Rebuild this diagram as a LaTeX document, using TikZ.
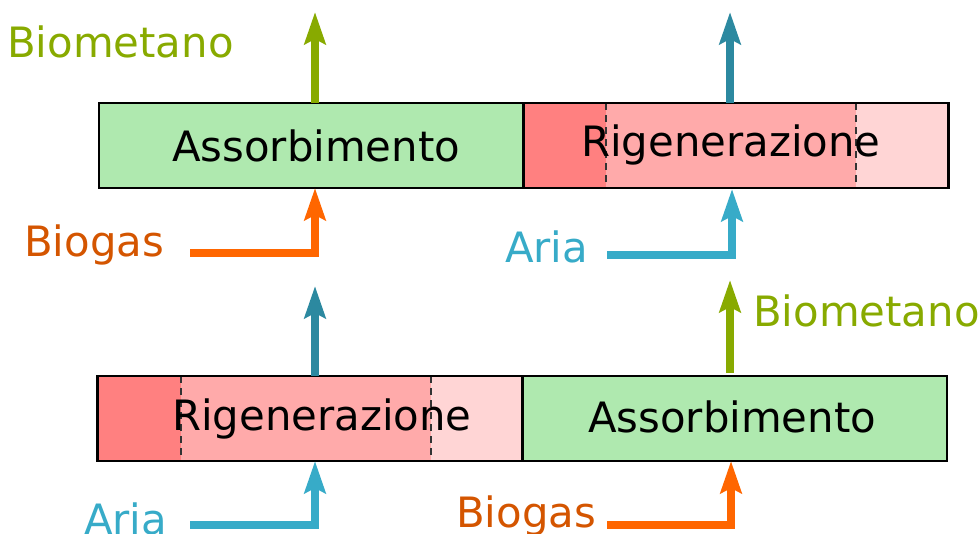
\documentclass[tikz,border=0pt]{standalone}
\usepackage{fontspec}
\setmainfont{DejaVu Sans}
\usetikzlibrary{arrows.meta}
\definecolor{absgreen}{HTML}{AFE9AF}
\definecolor{regdark}{HTML}{FF8080}
\definecolor{regmid}{HTML}{FFAAAA}
\definecolor{reglight}{HTML}{FFD5D5}
\definecolor{metgreen}{HTML}{88AA00}
\definecolor{teal}{HTML}{2C89A0}
\definecolor{airblue}{HTML}{37ABC8}
\definecolor{gasorange}{HTML}{FF6600}
\definecolor{gastext}{HTML}{D45500}
\tikzset{
  box/.style={draw=black, line width=2.8pt, minimum width=425pt, minimum height=85pt, inner sep=0pt},
  word/.style={font=\fontsize{41.8pt}{50pt}\selectfont, inner sep=0pt, anchor=base west},
  flow/.style={line width=7.7pt, line join=miter, -{Stealth[length=32pt,width=21pt,inset=5pt]}},
  sep/.style={draw=black!80, line width=1.5pt, dash pattern=on 7pt off 5pt},
}
\begin{document}
\begin{tikzpicture}[x=1pt,y=-1pt]
\useasboundingbox (0,0) rectangle (979,533);
% ---- top row ----
\fill[absgreen] (99,103) rectangle (524,188);
\fill[regdark] (524,103) rectangle (606,188);
\fill[regmid] (606,103) rectangle (856,188);
\fill[reglight] (856,103) rectangle (948,188);
\draw[sep] (606,103) -- (606,188);
\draw[sep] (856,103) -- (856,188);
\node[box] (abs1) at (311.5,145.5) {};
\node[box] (reg1) at (736,145.5) {};
\node[word] (tabs1) at (172,161) {Assorbimento};
\node[word] (treg1) at (581,156) {Rigenerazione};
% ---- bottom row ----
\fill[regdark] (98,376) rectangle (181,461);
\fill[regmid] (181,376) rectangle (431,461);
\fill[reglight] (431,376) rectangle (522,461);
\fill[absgreen] (522,376) rectangle (947,461);
\draw[sep] (181,376) -- (181,461);
\draw[sep] (431,376) -- (431,461);
\node[box] (reg2) at (310,418.5) {};
\node[box] (abs2) at (734.5,418.5) {};
\node[word] (treg2) at (172,430) {Rigenerazione};
\node[word] (tabs2) at (588,432) {Assorbimento};
% ---- labels ----
\node[word, text=metgreen] (lmet1) at (7,57) {Biometano};
\node[word, text=gastext] (lgas1) at (24,256) {Biogas};
\node[word, text=airblue] (lair1) at (505,262) {Aria};
\node[word, text=metgreen] (lmet2) at (753,326) {Biometano};
\node[word, text=gastext] (lgas2) at (456,527) {Biogas};
\node[word, text=airblue] (lair2) at (84,534) {Aria};
% ---- connector coordinates ----
\coordinate (o1s) at (315,103); \coordinate (o1e) at (315,12);
\coordinate (o2s) at (730,103); \coordinate (o2e) at (730,12);
\coordinate (o3s) at (315,376); \coordinate (o3e) at (315,286);
\coordinate (o4s) at (730,373); \coordinate (o4e) at (730,280);
\coordinate (g1) at (190,253); \coordinate (g1e) at (315,188);
\coordinate (a1) at (607,255); \coordinate (a1e) at (732,189);
\coordinate (a2) at (190,525); \coordinate (a2e) at (315,461);
\coordinate (g2) at (607,525); \coordinate (g2e) at (731,461);
% ---- flows ----
\draw[flow, metgreen] (o1s) -- (o1e);
\draw[flow, teal] (o2s) -- (o2e);
\draw[flow, teal] (o3s) -- (o3e);
\draw[flow, metgreen] (o4s) -- (o4e);
\draw[flow, gasorange] (g1) -| (g1e);
\draw[flow, airblue] (a1) -| (a1e);
\draw[flow, airblue] (a2) -| (a2e);
\draw[flow, gasorange] (g2) -| (g2e);
\end{tikzpicture}
\end{document}
